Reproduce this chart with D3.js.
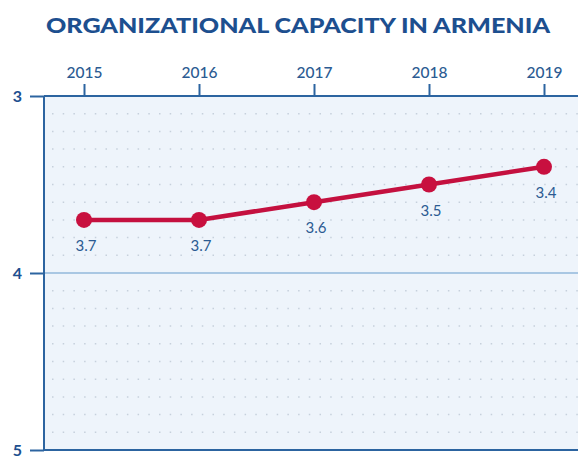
<!DOCTYPE html>
<html><head><meta charset="utf-8">
<script src="https://cdn.jsdelivr.net/npm/d3@7"></script>
<style>body{margin:0;background:#fff;}svg{display:block;}</style>
</head><body>
<svg id="c" width="578" height="456"></svg>
<script>
const years = ["2015","2016","2017","2018","2019"];
const values = [3.7, 3.7, 3.6, 3.5, 3.4];
const yTicks = [3, 4, 5];
const title = "ORGANIZATIONAL CAPACITY IN ARMENIA";

(function(){
const svg = d3.select("#c");
const pL = 44, pR = 600, pT = 96, pB = 450;
const x = d3.scalePoint().domain(years).range([84, 544]);
const y = d3.scaleLinear().domain([3, 5]).range([pT, pB]);
const axisCol = "#2c64a0", textCol = "#2b5b92";

svg.append("text").attr("x", 298).attr("y", 33).attr("text-anchor", "middle")
  .attr("font-family", "Lato, 'Open Sans', sans-serif").attr("font-weight", 900)
  .attr("font-size", 20.5).attr("fill", "#1d4f8f")
  .attr("textLength", 504).attr("lengthAdjust", "spacingAndGlyphs").text(title);

svg.append("rect").attr("x", pL).attr("y", pT).attr("width", pR - pL).attr("height", pB - pT)
  .attr("fill", "#eef4fb");

const minor = d3.range(31, 50).map(d => d / 10).filter(d => Math.abs(d - 4) > 0.01);
svg.append("g").selectAll("line").data(minor).join("line")
  .attr("x1", pL + 8).attr("x2", 578).attr("y1", d => y(d)).attr("y2", d => y(d))
  .attr("stroke", "#c6d0dc").attr("stroke-width", 1.5).attr("stroke-dasharray", "1.5 9.2");

svg.append("line").attr("x1", pL).attr("x2", 578).attr("y1", y(4)).attr("y2", y(4))
  .attr("stroke", "#a9c7e3").attr("stroke-width", 2);

const topAxis = d3.axisTop(x).tickSize(12).tickPadding(6);
const gt = svg.append("g").attr("transform", `translate(0,${pT})`).call(topAxis);
gt.select(".domain").remove();
gt.append("line").attr("x1", pL).attr("x2", 578).attr("stroke", axisCol).attr("stroke-width", 2);
gt.selectAll(".tick line").attr("stroke", axisCol).attr("stroke-width", 2);
gt.selectAll(".tick text").attr("fill", textCol).attr("font-size", 15.5)
  .attr("font-family", "Lato, 'Open Sans', sans-serif").attr("font-weight", 500);

const leftAxis = d3.axisLeft(y).tickValues(yTicks).tickSize(14).tickPadding(8).tickFormat(d3.format("d"));
const gl = svg.append("g").attr("transform", `translate(${pL},0)`).call(leftAxis);
gl.select(".domain").remove();
gl.append("line").attr("y1", pT).attr("y2", pB).attr("stroke", axisCol).attr("stroke-width", 2);
gl.selectAll(".tick line").attr("stroke", axisCol).attr("stroke-width", 2);
gl.selectAll(".tick text").attr("fill", "#1d4f8f").attr("font-size", 16).attr("font-weight", 700)
  .attr("font-family", "Lato, 'Open Sans', sans-serif");

svg.append("line").attr("x1", pL).attr("x2", 578).attr("y1", y(5)).attr("y2", y(5))
  .attr("stroke", axisCol).attr("stroke-width", 2);

const data = years.map((yr, i) => ({yr, v: values[i]}));
svg.append("path").datum(data)
  .attr("d", d3.line().x(d => x(d.yr)).y(d => y(d.v)))
  .attr("fill", "none").attr("stroke", "#c4103f").attr("stroke-width", 4.5);
svg.append("g").selectAll("circle").data(data).join("circle")
  .attr("cx", d => x(d.yr)).attr("cy", d => y(d.v)).attr("r", 8).attr("fill", "#c8103f");
svg.append("g").selectAll("text").data(data).join("text")
  .attr("x", d => x(d.yr) + 2).attr("y", d => y(d.v) + 31).attr("text-anchor", "middle")
  .attr("fill", textCol).attr("font-size", 15).attr("font-family", "Lato, 'Open Sans', sans-serif")
  .text(d => d3.format(".1f")(d.v));
})();
</script>
</body></html>
